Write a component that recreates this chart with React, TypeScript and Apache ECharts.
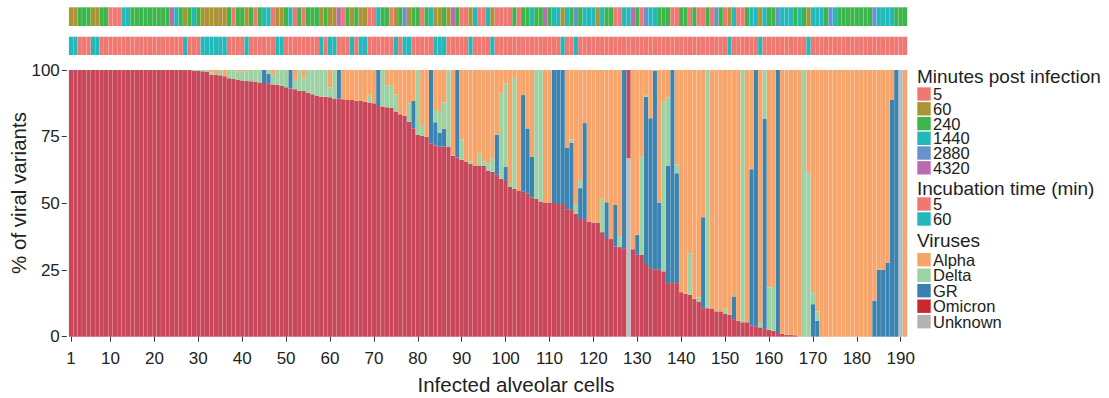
import React, { useEffect, useRef } from "react";
import * as echarts from "echarts";

const FONT = "'Liberation Sans', Arial, Helvetica, sans-serif";

// 191 infected alveolar cells (category index)
const cells: string[] = Array.from({ length: 191 }, (_, i) => String(i + 1));

// % of viral variants per cell
const omicron = [
  100, 100, 100, 100, 100, 100, 100, 100, 100, 100,
  100, 100, 100, 100, 100, 100, 100, 100, 100, 100,
  100, 100, 100, 100, 100, 100, 100, 100, 99.7, 99.6,
  99.5, 99.3, 98.1, 98.1, 98.0, 97.7, 96.9, 96.6, 96.3, 96.1,
  95.9, 95.8, 95.5, 95.3, 95.1, 95.0, 94.6, 94.4, 94.0, 93.5,
  93.1, 92.8, 92.1, 92.1, 91.5, 90.9, 90.3, 90.0, 90.0, 89.8,
  89.3, 89.3, 89.0, 88.8, 88.8, 88.5, 88.4, 88.1, 87.8, 87.5,
  86.5, 86.3, 86.0, 85.8, 84.4, 83.4, 82.8, 80.6, 78.2, 75.7,
  75.3, 75.0, 72.5, 71.7, 71.3, 71.3, 71.3, 67.8, 67.2, 66.3,
  65.7, 64.8, 64.2, 64.2, 64.2, 62.3, 61.8, 60.7, 59.2, 58.4,
  56.1, 55.4, 54.8, 54.4, 53.8, 52.2, 51.7, 50.7, 50.3, 50.3,
  50.1, 49.8, 49.8, 47.8, 47.8, 46.1, 44.1, 44.1, 43.2, 42.8,
  42.8, 39.2, 37.0, 36.6, 33.8, 33.6, 33.2, 33.1, 32.8, 30.7,
  30.7, 27.3, 25.7, 25.3, 25.1, 24.5, 20.1, 20.1, 20.1, 16.7,
  16.1, 15.7, 14.2, 13.2, 10.7, 10.7, 10.4, 9.5, 9.5, 8.5,
  8.2, 6.6, 6.0, 5.4, 5.4, 4.1, 3.9, 3.5, 3.2, 2.6,
  2.2, 1.4, 1.1, 0.7, 0.7, 0.5, 0, 0, 0, 0,
  0, 0, 0, 0, 0, 0, 0, 0, 0, 0,
  0, 0, 0, 0, 0, 0, 0, 0, 0, 0,
  0,
];

const gr = [
  0, 0, 0, 0, 0, 0, 0, 0, 0, 0,
  0, 0, 0, 0, 0, 0, 0, 0, 0, 0,
  0, 0, 0, 0, 0, 0, 0, 0, 0, 0,
  0, 0, 0, 0, 0, 0, 0, 0, 0, 0,
  0, 0, 0, 0, 4.9, 3.5, 0, 0, 0, 0,
  6.9, 0, 0, 0, 0, 0, 0, 0, 0, 0,
  0, 10.7, 0, 0, 0, 0, 0, 0, 0, 0,
  13.5, 0, 0, 0, 0, 0, 0, 0, 10.2, 0,
  0, 0, 27.5, 8.7, 5.2, 6.6, 0, 0, 32.8, 0,
  0, 0, 0, 0, 0, 0, 0, 15.0, 0, 5.4,
  0, 0, 0, 36.2, 24.3, 15.3, 0, 0, 0, 0,
  49.9, 50.2, 50.2, 23.1, 25.0, 0, 11.6, 36.0, 0, 0,
  0, 0, 13.4, 0, 15.6, 0, 66.8, 0, 0, 7.5,
  0, 62.7, 56.2, 74.3, 25.2, 0, 43.9, 79.9, 41.2, 0,
  0, 0, 0, 0, 34.1, 0, 0, 0, 0, 0,
  0, 8.5, 0, 0, 0, 58.7, 96.1, 0, 78.4, 0,
  0, 98.6, 0, 0, 0, 0, 0, 0, 0, 12.2,
  6.0, 0, 0, 0, 0, 0, 0, 0, 0, 0,
  0, 0, 0, 13.5, 25.1, 25.1, 27.8, 88.8, 100, 0,
  0,
];

const delta = [
  0, 0, 0, 0, 0, 0, 0, 0, 0, 0,
  0, 0, 0, 0, 0, 0, 0, 0, 0, 0,
  0, 0, 0, 0, 0, 0, 0, 0, 0.3, 0.4,
  0.5, 0.7, 1.0, 0.4, 2.0, 0, 3.1, 3.4, 3.2, 3.5,
  3.6, 4.2, 4.5, 4.7, 0, 1.5, 3.6, 5.6, 6.0, 6.5,
  0, 3.5, 7.9, 4.7, 8.5, 9.1, 9.7, 10.0, 10.0, 3.7,
  10.7, 0, 0, 0, 0, 0, 0, 0, 3.0, 0,
  0, 13.7, 8.3, 8.6, 6.5, 0, 0, 6.9, 0, 24.3,
  4.1, 0, 0, 4.6, 8.1, 10.0, 28.7, 0, 0, 7.7,
  0, 0.9, 0, 4.6, 1.5, 2.7, 5.1, 0, 32.1, 31.2,
  1.5, 41.6, 0, 0, 0, 0, 48.3, 49.3, 0, 0,
  0, 0, 0, 0, 1.2, 3.4, 3.1, 0, 0, 0,
  0, 12.5, 0, 0, 0, 4.0, 0, 0, 0, 0,
  36.8, 0.6, 0, 0.4, 0, 63.4, 25.7, 0, 3.3, 0,
  0, 15.6, 0, 1.5, 0, 89.3, 0, 0, 0, 2.2,
  0, 0, 0, 94.6, 0, 0, 0, 1.6, 18.4, 15.9,
  16.8, 0, 0, 0, 0, 0, 0, 100, 61.3, 4.5,
  3.5, 0, 0, 0, 0, 0, 0, 0, 0, 0,
  0, 0, 0, 0, 0, 0, 0, 0, 0, 0,
  0,
];

const alpha = [
  0, 0, 0, 0, 0, 0, 0, 0, 0, 0,
  0, 0, 0, 0, 0, 0, 0, 0, 0, 0,
  0, 0, 0, 0, 0, 0, 0, 0, 0, 0,
  0, 0, 0.9, 1.5, 0, 2.3, 0, 0, 0.5, 0.4,
  0.5, 0, 0, 0, 0, 0, 1.8, 0, 0, 0,
  0, 3.7, 0, 3.2, 0, 0, 0, 0, 0, 6.5,
  0, 0, 11.0, 11.2, 11.2, 11.5, 11.6, 11.9, 9.2, 12.5,
  0, 0, 5.7, 5.6, 9.1, 16.6, 17.2, 12.5, 11.6, 0,
  20.6, 25.0, 0, 15.0, 15.4, 12.1, 0, 32.2, 0, 26.0,
  34.3, 34.3, 35.8, 31.2, 34.3, 35.0, 33.1, 24.3, 8.7, 5.0,
  42.4, 3.0, 45.2, 9.4, 21.9, 32.5, 0, 0, 49.7, 49.7,
  0, 0, 0, 29.1, 26.0, 50.5, 41.2, 19.9, 56.8, 57.2,
  57.2, 48.3, 49.6, 63.4, 50.6, 62.4, 0, 0, 67.2, 61.8,
  32.5, 9.4, 18.1, 0, 49.7, 12.1, 10.3, 0, 35.4, 83.3,
  83.9, 68.7, 85.8, 85.3, 55.2, 0, 89.6, 90.5, 90.5, 89.3,
  91.8, 84.9, 94.0, 0, 94.6, 37.2, 0, 94.9, 0, 81.5,
  81.0, 0, 98.9, 99.3, 99.3, 99.5, 100, 0, 38.7, 83.3,
  90.5, 100, 100, 100, 100, 100, 100, 100, 100, 100,
  100, 100, 100, 86.5, 74.9, 74.9, 72.2, 11.2, 0, 0,
  100,
];

const unknown = [
  0, 0, 0, 0, 0, 0, 0, 0, 0, 0,
  0, 0, 0, 0, 0, 0, 0, 0, 0, 0,
  0, 0, 0, 0, 0, 0, 0, 0, 0, 0,
  0, 0, 0, 0, 0, 0, 0, 0, 0, 0,
  0, 0, 0, 0, 0, 0, 0, 0, 0, 0,
  0, 0, 0, 0, 0, 0, 0, 0, 0, 0,
  0, 0, 0, 0, 0, 0, 0, 0, 0, 0,
  0, 0, 0, 0, 0, 0, 0, 0, 0, 0,
  0, 0, 0, 0, 0, 0, 0, 0, 0, 0,
  0, 0, 0, 0, 0, 0, 0, 0, 0, 0,
  0, 0, 0, 0, 0, 0, 0, 0, 0, 0,
  0, 0, 0, 0, 0, 0, 0, 0, 0, 0,
  0, 0, 0, 0, 0, 0, 0, 66.9, 0, 0,
  0, 0, 0, 0, 0, 0, 0, 0, 0, 0,
  0, 0, 0, 0, 0, 0, 0, 0, 0, 0,
  0, 0, 0, 0, 0, 0, 0, 0, 0, 0,
  0, 0, 0, 0, 0, 0, 0, 0, 0, 0,
  0, 0, 0, 0, 0, 0, 0, 0, 0, 0,
  0, 0, 0, 0, 0, 0, 0, 0, 0, 100,
  0,
];

// annotation strips
const minutesPost = [
  60, 60, 240, 240, 240, 60, 60, 240, 240, 5,
  5, 5, 1440, 1440, 240, 240, 240, 240, 240, 240,
  240, 240, 240, 4320, 1440, 240, 60, 240, 1440, 240,
  60, 60, 60, 60, 60, 60, 240, 5, 240, 240,
  60, 240, 5, 240, 1440, 1440, 5, 60, 60, 240,
  1440, 5, 240, 5, 240, 240, 240, 60, 240, 60,
  60, 4320, 5, 240, 60, 240, 60, 60, 5, 5,
  1440, 240, 240, 5, 60, 240, 2880, 60, 240, 240,
  5, 240, 1440, 60, 60, 240, 60, 4320, 240, 5,
  5, 60, 1440, 5, 5, 1440, 60, 5, 5, 5,
  5, 240, 5, 240, 240, 1440, 240, 240, 4320, 240,
  1440, 1440, 60, 1440, 240, 2880, 240, 1440, 1440, 1440,
  60, 1440, 240, 240, 5, 5, 1440, 1440, 4320, 240,
  5, 2880, 1440, 1440, 240, 240, 240, 5, 5, 240,
  240, 5, 240, 5, 5, 240, 5, 2880, 240, 5,
  60, 1440, 5, 5, 240, 1440, 1440, 60, 1440, 240,
  240, 2880, 1440, 1440, 1440, 240, 1440, 240, 60, 1440,
  1440, 1440, 240, 2880, 1440, 240, 240, 240, 240, 240,
  240, 240, 240, 2880, 1440, 1440, 1440, 1440, 240, 240,
  240,
];

const incubation = [
  60, 60, 5, 5, 5, 60, 60, 5, 5, 5,
  5, 5, 5, 5, 5, 5, 5, 5, 5, 5,
  5, 5, 5, 5, 5, 5, 60, 5, 5, 5,
  60, 60, 60, 60, 60, 60, 5, 5, 5, 5,
  60, 5, 5, 5, 5, 5, 5, 60, 60, 5,
  5, 5, 5, 5, 5, 5, 5, 60, 5, 60,
  60, 5, 5, 5, 60, 5, 60, 60, 5, 5,
  5, 5, 5, 5, 60, 5, 60, 60, 5, 5,
  5, 5, 5, 60, 60, 60, 5, 5, 5, 5,
  5, 60, 5, 5, 5, 5, 60, 5, 5, 5,
  5, 5, 5, 5, 5, 5, 5, 5, 5, 5,
  5, 5, 60, 5, 5, 60, 5, 5, 5, 5,
  5, 5, 5, 5, 5, 5, 5, 5, 5, 5,
  5, 5, 5, 5, 5, 5, 5, 5, 5, 5,
  5, 5, 5, 5, 5, 5, 5, 5, 5, 5,
  60, 5, 5, 5, 5, 5, 5, 60, 5, 5,
  5, 5, 5, 5, 5, 5, 5, 5, 60, 5,
  5, 5, 5, 5, 5, 5, 5, 5, 5, 5,
  5, 5, 5, 5, 5, 5, 5, 5, 5, 5,
  5,
];

const minutesLevels = [5, 60, 240, 1440, 2880, 4320];
const minutesColors = ["#F07873", "#AA9435", "#3DB54B", "#23B8B9", "#6B90CE", "#B96CB0"];
const incubationLevels = [5, 60];
const incubationColors = ["#F07873", "#23B8B9"];
const virusNames = ["Alpha", "Delta", "GR", "Omicron", "Unknown"];
const virusLegendColors = ["#F5A46A", "#9DD2A3", "#3881B0", "#C9282E", "#B3B3B3"];
const virusBarColors: Record<string, string> = {
  Alpha: "#F7A56B",
  Delta: "#9ED2A4",
  GR: "#3B84B2",
  Omicron: "#C8475A",
  Unknown: "#BDBDBD",
};

const yTicks = [0, 25, 50, 75, 100];

export default function App() {
  const ref = useRef<HTMLDivElement>(null);

  useEffect(() => {
    document.body.style.margin = "0";
    if (!ref.current) return;
    const chart = echarts.init(ref.current, undefined, { renderer: "svg" });

    const gridLeft = 68.8;
    const gridWidth = 838.5;
    const gap = "4%";

    const tickShown = (index: number) => index === 0 || (index + 1) % 10 === 0;

    const stackSeries = [
      { name: "Unknown", data: unknown },
      { name: "Omicron", data: omicron },
      { name: "GR", data: gr },
      { name: "Delta", data: delta },
      { name: "Alpha", data: alpha },
    ].map((s) => ({
      type: "bar",
      name: s.name,
      stack: "v",
      data: s.data,
      xAxisIndex: 0,
      yAxisIndex: 0,
      barCategoryGap: gap,
      itemStyle: { color: virusBarColors[s.name] },
      silent: true,
    }));

    const legendEls: any[] = [];
    const addTitle = (text: string, y: number) =>
      legendEls.push({
        type: "text",
        x: 917,
        y,
        style: {
          text,
          fontSize: 19,
          lineHeight: 17,
          fontFamily: FONT,
          fill: "#222",
          textVerticalAlign: "middle",
          textAlign: "left",
        },
      });
    const addItem = (label: string, color: string, y: number) => {
      legendEls.push({
        type: "rect",
        shape: { x: 917.3, y: y - 6.7, width: 13.4, height: 13.4 },
        style: { fill: color },
      });
      legendEls.push({
        type: "text",
        x: 933,
        y,
        style: {
          text: label,
          fontSize: 16.5,
          lineHeight: 13.5,
          fontFamily: FONT,
          fill: "#222",
          textVerticalAlign: "middle",
          textAlign: "left",
        },
      });
    };
    addTitle("Minutes post infection", 76.7);
    const minY = [94, 108.8, 123.6, 138.3, 153, 167.8];
    minutesLevels.forEach((m, i) => addItem(String(m), minutesColors[i], minY[i]));
    addTitle("Incubation time (min)", 188);
    const incY = [204, 219];
    incubationLevels.forEach((m, i) => addItem(String(m), incubationColors[i], incY[i]));
    addTitle("Viruses", 240);
    const virY = [259.7, 275.2, 290.7, 306.2, 321.7];
    virusNames.forEach((v, i) => addItem(v, virusLegendColors[i], virY[i]));

    const option: any = {
      animation: false,
      backgroundColor: "#ffffff",
      grid: [
        { left: gridLeft, top: 70, width: gridWidth, height: 266.7 },
        { left: gridLeft, top: 7.3, width: gridWidth, height: 18.7 },
        { left: gridLeft, top: 36.7, width: gridWidth, height: 18.3 },
      ],
      xAxis: [
        {
          type: "category",
          gridIndex: 0,
          data: cells,
          offset: 1.5,
          axisLine: { show: false },
          axisTick: {
            show: true,
            alignWithLabel: true,
            interval: (i: number) => tickShown(i),
            length: 5,
            lineStyle: { color: "#333", width: 1 },
          },
          axisLabel: {
            interval: (i: number) => tickShown(i),
            fontSize: 17,
            fontFamily: FONT,
            color: "#222",
            margin: 12,
          },
          splitLine: { show: false },
        },
        { type: "category", gridIndex: 1, data: cells, show: false },
        { type: "category", gridIndex: 2, data: cells, show: false },
      ],
      yAxis: [
        {
          type: "value",
          gridIndex: 0,
          min: 0,
          max: 100,
          interval: 25,
          offset: 2,
          axisLine: { show: false },
          axisTick: { show: true, length: 5, lineStyle: { color: "#333", width: 1 } },
          axisLabel: {
            fontSize: 17,
            fontFamily: FONT,
            color: "#222",
            margin: 7,
            formatter: (v: number) => (yTicks.includes(v) ? String(v) : ""),
          },
          splitLine: { show: false },
        },
        { type: "value", gridIndex: 1, min: 0, max: 1, show: false },
        { type: "value", gridIndex: 2, min: 0, max: 1, show: false },
      ],
      series: [
        ...stackSeries,
        {
          type: "bar",
          name: "Minutes post infection",
          xAxisIndex: 1,
          yAxisIndex: 1,
          barCategoryGap: gap,
          silent: true,
          data: minutesPost.map((m) => ({
            value: 1,
            itemStyle: { color: minutesColors[minutesLevels.indexOf(m)] },
          })),
        },
        {
          type: "bar",
          name: "Incubation time (min)",
          xAxisIndex: 2,
          yAxisIndex: 2,
          barCategoryGap: gap,
          silent: true,
          data: incubation.map((m) => ({
            value: 1,
            itemStyle: { color: incubationColors[incubationLevels.indexOf(m)] },
          })),
        },
      ],
      graphic: {
        elements: [
          {
            type: "text",
            x: 516,
            y: 384,
            style: {
              text: "Infected alveolar cells",
              fontSize: 20.5,
              fontFamily: FONT,
              fill: "#222",
              textAlign: "center",
              textVerticalAlign: "middle",
            },
          },
          {
            type: "text",
            x: 18.5,
            y: 193,
            rotation: Math.PI / 2,
            style: {
              text: "% of viral variants",
              fontSize: 20.5,
              fontFamily: FONT,
              fill: "#222",
              textAlign: "center",
              textVerticalAlign: "middle",
            },
          },
          ...legendEls,
        ],
      },
    };

    chart.setOption(option);
    return () => chart.dispose();
  }, []);

  return <div ref={ref} style={{ width: 1109, height: 398 }} />;
}
